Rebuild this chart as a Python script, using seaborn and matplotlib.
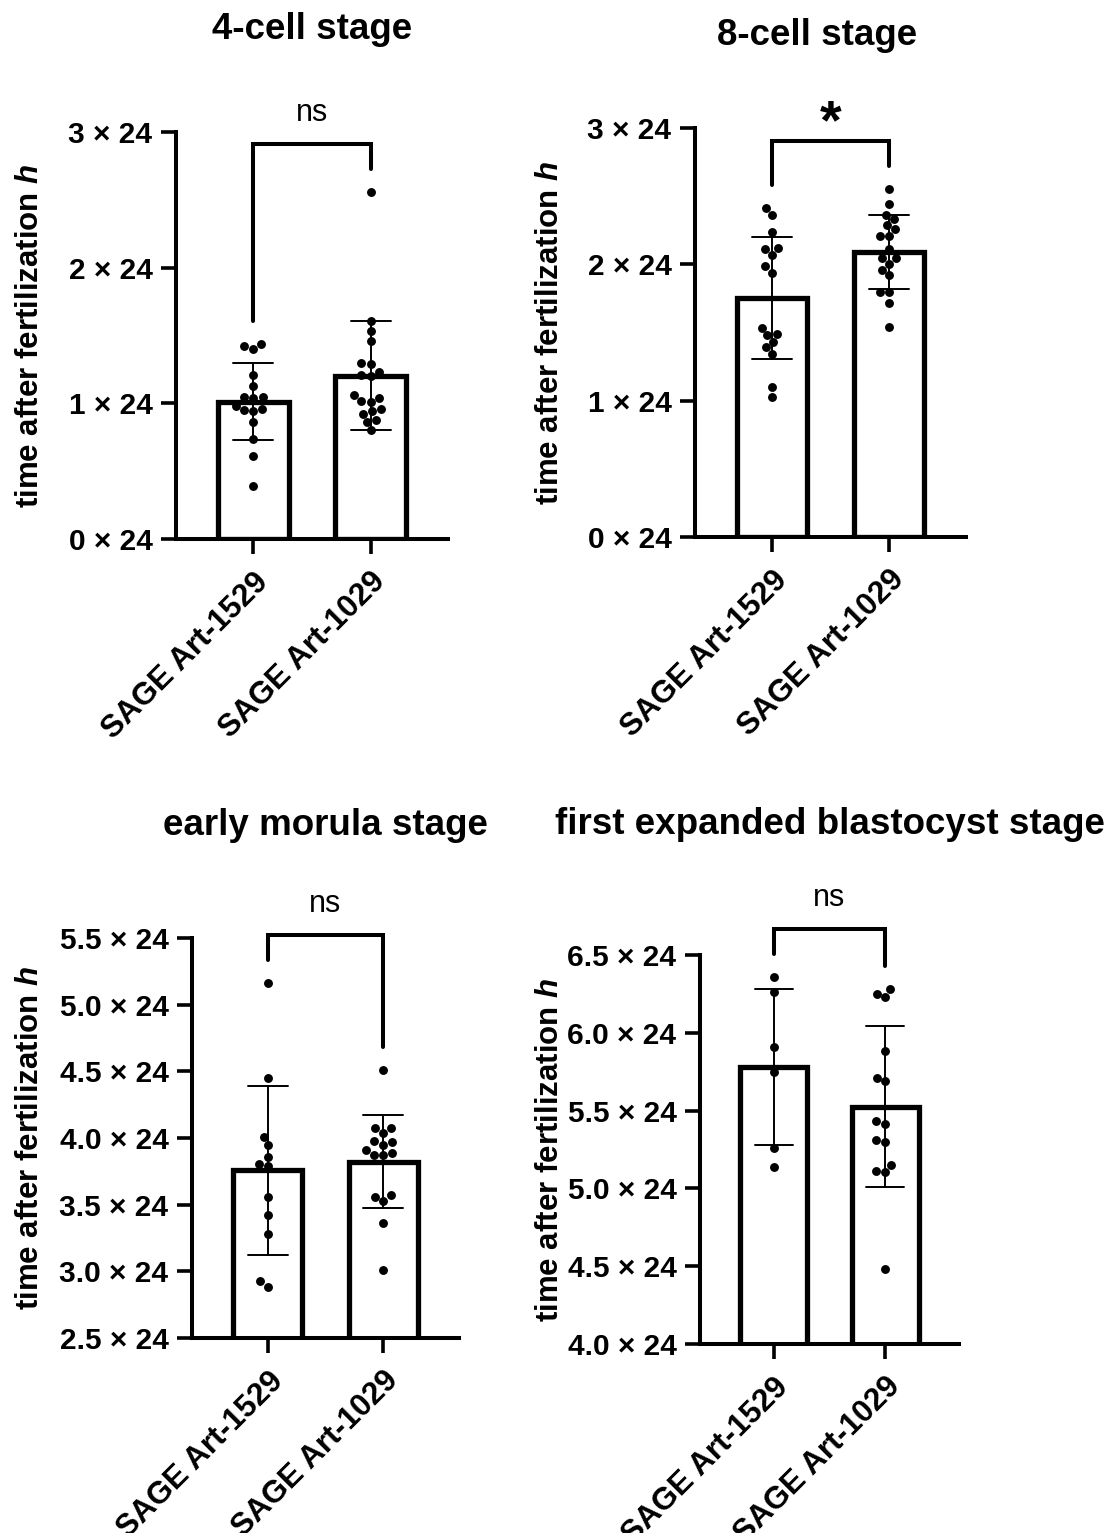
import numpy as np
import pandas as pd
import matplotlib
matplotlib.use('Agg')
import matplotlib.pyplot as plt
import matplotlib.transforms as mtransforms
import seaborn as sns

# groups compared in every panel
groups = ['SAGE Art-1529', 'SAGE Art-1029']

# time after fertilization, in units of 24 h (one dot per embryo)
four_cell_1529 = [1.42, 1.40, 1.44, 1.21, 1.13, 1.04, 1.05, 1.05, 0.94, 0.95,
                  0.96, 0.98, 0.86, 0.74, 0.615, 0.39]
four_cell_1029 = [2.56, 1.61, 1.53, 1.46, 1.23, 1.29, 1.30, 1.21, 1.20, 1.01,
                  1.04, 1.02, 1.06, 0.96, 0.94, 0.92, 0.88, 0.86, 0.80]

eight_cell_1529 = [2.41, 2.36, 2.24, 2.12, 2.115, 2.07, 1.985, 1.94, 1.535, 1.49,
                   1.48, 1.43, 1.39, 1.34, 1.10, 1.03]
eight_cell_1029 = [2.55, 2.445, 2.36, 2.33, 2.29, 2.26, 2.21, 2.21, 2.115, 2.05,
                   2.05, 2.005, 1.96, 1.92, 1.80, 1.80, 1.72, 1.54]

morula_1529 = [5.16, 4.45, 4.01, 3.95, 3.86, 3.805, 3.79, 3.56, 3.42, 3.28,
               2.925, 2.885]
morula_1029 = [4.51, 4.075, 4.04, 4.075, 3.95, 3.975, 3.97, 3.87, 3.89, 3.91,
               3.87, 3.56, 3.53, 3.57, 3.36, 3.01]

blastocyst_1529 = [6.36, 6.26, 5.91, 5.75, 5.26, 5.14]
blastocyst_1029 = [6.25, 6.28, 6.23, 5.88, 5.69, 5.71, 5.415, 5.43, 5.31, 5.30,
                   5.15, 5.105, 5.115, 4.485]

stage_titles = ['4-cell stage', '8-cell stage', 'early morula stage',
                'first expanded blastocyst stage']
sig_labels = ['ns', '*', 'ns', 'ns']
y_ticks = [[0, 1, 2, 3], [0, 1, 2, 3],
           [2.5, 3.0, 3.5, 4.0, 4.5, 5.0, 5.5],
           [4.0, 4.5, 5.0, 5.5, 6.0, 6.5]]
tick_fmt = ['{:g} × 24', '{:g} × 24', '{:.1f} × 24', '{:.1f} × 24']

panels = [(four_cell_1529, four_cell_1029), (eight_cell_1529, eight_cell_1029),
          (morula_1529, morula_1029), (blastocyst_1529, blastocyst_1029)]

# layout in pixels: (left, right, top, bottom) of each axes
W, H = 1110, 1533
panel_px = [(176, 448, 132, 539), (695, 966, 128, 537),
            (192, 459, 938, 1338), (700, 959, 955, 1344)]
title_px = [(312, 39), (817, 45), (325, 835), (830, 834)]
ylabel_right_px = [45, 565, 45, 565]

sns.set_style('ticks')
plt.rcParams['font.family'] = ['Liberation Sans', 'DejaVu Sans']
plt.rcParams['mathtext.fontset'] = 'custom'
plt.rcParams['mathtext.it'] = 'Liberation Sans:italic:bold'
plt.rcParams['mathtext.rm'] = 'Liberation Sans:bold'
plt.rcParams['mathtext.bf'] = 'Liberation Sans:bold'
for key in ['text.color', 'axes.labelcolor', 'xtick.color', 'ytick.color',
            'axes.edgecolor']:
    plt.rcParams[key] = 'black'


def px_rect(l, r, t, b):
    return [l / W, 1 - b / H, (r - l) / W, (b - t) / H]


fig = plt.figure(figsize=(W / 100, H / 100), dpi=100)
label_shift = mtransforms.ScaledTranslation(-10 / 100, 0, fig.dpi_scale_trans)

for i, (a, b) in enumerate(panels):
    l, r, t, bt = panel_px[i]
    ax = fig.add_axes(px_rect(l, r, t, bt))
    df = pd.DataFrame({'group': [groups[0]] * len(a) + [groups[1]] * len(b),
                       'value': a + b})

    sns.barplot(data=df, x='group', y='value', order=groups, errorbar='sd',
                capsize=0.34, width=0.6, color='white', saturation=1,
                edgecolor='black', linewidth=3.8,
                err_kws={'color': 'black', 'linewidth': 1.4}, ax=ax)
    sns.swarmplot(data=df, x='group', y='value', order=groups, color='black',
                  size=6.4, zorder=4, ax=ax)

    ax.set_xlim(-0.66, 1.66)
    ax.set_ylim(y_ticks[i][0], y_ticks[i][-1])
    ax.set_yticks(y_ticks[i])
    ax.set_yticklabels([tick_fmt[i].format(v) for v in y_ticks[i]],
                       fontweight='bold')
    ax.set_xticks([0, 1])
    ax.set_xticklabels(groups, fontweight='bold', rotation=45, ha='right',
                       rotation_mode='anchor')
    for lab in ax.get_xticklabels():
        lab.set_transform(lab.get_transform() + label_shift)
    sns.despine(ax=ax)
    for side in ['left', 'bottom']:
        ax.spines[side].set_linewidth(2.9)
        ax.spines[side].set_color('black')
    ax.tick_params(axis='both', width=2.6, length=11, color='black')
    ax.tick_params(axis='y', pad=6, labelsize=21.5)
    ax.tick_params(axis='x', pad=9, labelsize=22.5)
    ax.set_xlabel('')
    ax.set_ylabel('time after fertilization $h$', fontsize=22.5,
                  fontweight='bold')
    ax.yaxis.set_label_coords((ylabel_right_px[i] - l) / (r - l), 0.5)

    # significance bracket, placed a few pixels above the highest mark
    tr = ax.transData
    inv = tr.inverted()
    legs = []
    for vals in (a, b):
        top = max(max(vals), np.mean(vals) + np.std(vals, ddof=1))
        legs.append(tr.transform((0, top))[1] + 23)
    bar_px = max(legs) + 25
    leg_y = [inv.transform((0, p))[1] for p in legs]
    bar_y = inv.transform((0, bar_px))[1]
    ax.plot([0, 0, 1, 1], [leg_y[0], bar_y, bar_y, leg_y[1]], color='black',
            lw=2.9, clip_on=False, solid_joinstyle='miter', zorder=5)
    if sig_labels[i] == '*':
        txt_y = inv.transform((0, bar_px + 3))[1]
        ax.text(0.5, txt_y, '*', ha='center', va='baseline', fontsize=40,
                fontweight='bold', clip_on=False)
    else:
        txt_y = inv.transform((0, bar_px + 23))[1]
        ax.text(0.5, txt_y, sig_labels[i], ha='center', va='baseline',
                fontsize=22, fontweight='normal', clip_on=False)

    tx, ty = title_px[i]
    fig.text(tx / W, 1 - ty / H, stage_titles[i], ha='center', va='baseline',
             fontsize=26.5, fontweight='bold')

fig.savefig('out.png', dpi=100)
